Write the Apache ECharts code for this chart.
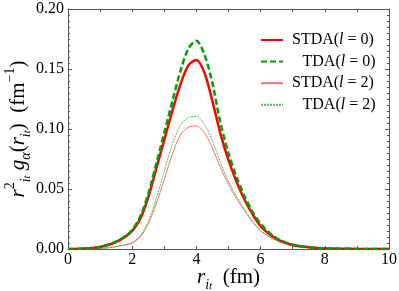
<!DOCTYPE html>
<html><head><meta charset="utf-8">
<script src="https://cdn.jsdelivr.net/npm/echarts@6/dist/echarts.min.js"></script>
<style>html,body{margin:0;padding:0;background:#fff}#c{width:399px;height:291px}</style>
</head><body><div id="c"></div>
<script>
const xs = [0, 0.25, 0.5, 0.75, 1, 1.25, 1.5, 1.75, 2, 2.25, 2.5, 2.75, 3, 3.25, 3.5, 3.75, 4, 4.25, 4.5, 4.75, 5, 5.25, 5.5, 5.75, 6, 6.25, 6.5, 6.75, 7, 7.25, 7.5, 7.75, 8, 8.5, 9, 9.5, 10];
const stdaL0 = [0, 0.0001, 0.0004, 0.0009, 0.0017, 0.0033, 0.006, 0.0095, 0.015, 0.025, 0.043, 0.067, 0.091, 0.115, 0.137, 0.153, 0.1575, 0.147, 0.123, 0.096, 0.074, 0.056, 0.041, 0.029, 0.019, 0.013, 0.0085, 0.0055, 0.0033, 0.0022, 0.0014, 0.0009, 0.0006, 0.0003, 0.0001, 0.00005, 0];
const tdaL0 = [0, 0.0001, 0.0004, 0.0009, 0.0018, 0.0035, 0.0062, 0.010, 0.016, 0.027, 0.046, 0.071, 0.097, 0.123, 0.148, 0.167, 0.1735, 0.162, 0.138, 0.105, 0.080, 0.060, 0.044, 0.031, 0.021, 0.014, 0.009, 0.0057, 0.0035, 0.0024, 0.0015, 0.001, 0.0006, 0.0003, 0.0001, 0.00005, 0];
const stdaL2 = [0, 0, 0.0001, 0.0003, 0.0005, 0.001, 0.0019, 0.0033, 0.005, 0.010, 0.021, 0.038, 0.058, 0.079, 0.095, 0.1015, 0.1025, 0.097, 0.084, 0.068, 0.054, 0.042, 0.032, 0.0225, 0.015, 0.0105, 0.007, 0.0043, 0.0027, 0.0018, 0.0012, 0.0008, 0.0005, 0.0002, 0.0001, 0, 0];
const tdaL2 = [0, 0, 0.0001, 0.0003, 0.0005, 0.001, 0.002, 0.0035, 0.0055, 0.011, 0.023, 0.042, 0.065, 0.087, 0.103, 0.1095, 0.1105, 0.104, 0.090, 0.072, 0.0565, 0.044, 0.033, 0.023, 0.0155, 0.011, 0.0072, 0.0045, 0.0028, 0.0019, 0.0012, 0.0008, 0.0005, 0.0002, 0.0001, 0, 0];
const seriesNames = ['STDA(l = 0)', 'TDA(l = 0)', 'STDA(l = 2)', 'TDA(l = 2)'];
const xTicks = ['0', '2', '4', '6', '8', '10'];
const yTicks = ['0.00', '0.05', '0.10', '0.15', '0.20'];

const FONT = '"Liberation Serif", "DejaVu Serif", serif';
const pair = a => xs.map((x, i) => [x, a[i]]);
const chart = echarts.init(document.getElementById('c'), null, {renderer: 'canvas'});
const frame = '#555';
const baseAxis = {
  axisLine: {show: true, onZero: false, lineStyle: {color: frame, width: 1}},
  splitLine: {show: false},
};
const legendRich = {
  sp: {width: 4, fontSize: 16},
  sp2: {width: 14.5, fontSize: 16},
  r: {fontFamily: FONT, fontSize: 16, color: '#000'},
  i: {fontFamily: FONT, fontSize: 16, fontStyle: 'italic', color: '#000'}
};
const nameRich = {
  v: {fontFamily: FONT, fontSize: 21, fontStyle: 'italic', color: '#000', lineHeight: 30, verticalAlign: 'middle'},
  n: {fontFamily: FONT, fontSize: 21, color: '#000', lineHeight: 30, verticalAlign: 'middle'},
  sup: {fontFamily: FONT, fontSize: 14, color: '#000', lineHeight: 16, verticalAlign: 'top'},
  sub: {fontFamily: FONT, fontSize: 14, fontStyle: 'italic', color: '#000', lineHeight: 14, verticalAlign: 'bottom'},
  subsub: {fontFamily: FONT, fontSize: 11, fontStyle: 'italic', color: '#000', lineHeight: 9, verticalAlign: 'bottom'}
};
chart.setOption({
  animation: false,
  backgroundColor: '#fff',
  grid: {left: 68, right: 10, top: 9, bottom: 42, containLabel: false, outerBoundsMode: 'none'},
  legend: {
    orient: 'vertical', left: 255, top: 27, itemWidth: 22, itemHeight: 12, itemGap: 5.6,
    data: seriesNames,
    itemStyle: {opacity: 0},
    formatter: function (name) {
      const m = name.match(/^(S?TDA\()l( = \d\))$/);
      const sp = name.startsWith('S') ? '{sp| }' : '{sp2| }';
      return sp + '{r|' + m[1] + '}{i|l}{r|' + m[2] + '}';
    },
    textStyle: {rich: legendRich, fontFamily: FONT, fontSize: 16, color: '#000', padding: [0, 0, 0, 0]}
  },
  xAxis: [
    Object.assign({}, baseAxis, {
      type: 'value', min: 0, max: 10, interval: 1, position: 'bottom',
      axisTick: {show: true, inside: true, length: 3, lineStyle: {color: frame}},
      axisLabel: {show: true, margin: 3, fontFamily: FONT, fontSize: 16, color: '#000',
        formatter: v => (Math.round(v) % 2 === 0 ? xTicks[Math.round(v) / 2] : '')},
      name: '{v|r}{sub|i}{subsub|t}{n|  (fm)}',
      nameLocation: 'middle', nameGap: 13, nameMoveOverlap: false,
      nameTextStyle: {rich: nameRich}
    }),
    Object.assign({}, baseAxis, {
      type: 'value', min: 0, max: 10, interval: 1, position: 'top',
      axisTick: {show: true, inside: true, length: 3, lineStyle: {color: frame}},
      axisLabel: {show: false}
    })
  ],
  yAxis: [
    Object.assign({}, baseAxis, {
      type: 'value', min: 0, max: 0.2, interval: 0.05, position: 'left',
      axisTick: {show: true, inside: true, length: 4, lineStyle: {color: frame}},
      minorTick: {show: true, splitNumber: 10, length: 2, lineStyle: {color: frame}},
      axisLabel: {show: true, margin: 4, fontFamily: FONT, fontSize: 16, color: '#000',
        formatter: v => yTicks[Math.round(v / 0.05)]},
      name: '{v|r}{sup|2}{sub|i}{subsub|t}{v| g}{sub|α}{n|(}{v|r}{sub|i}{subsub|t}{n|)  (fm}{sup|−1}{n|)}',
      nameLocation: 'middle', nameGap: 35, nameRotate: 90, nameMoveOverlap: false,
      nameTextStyle: {rich: nameRich}
    }),
    Object.assign({}, baseAxis, {
      type: 'value', min: 0, max: 0.2, interval: 0.05, position: 'right',
      axisTick: {show: true, inside: true, length: 4, lineStyle: {color: frame}},
      minorTick: {show: true, splitNumber: 10, length: 2, lineStyle: {color: frame}},
      axisLabel: {show: false}
    })
  ],
  series: [
    {name: seriesNames[0], type: 'line', data: pair(stdaL0), smooth: 0.3, symbol: 'none', z: 3,
      lineStyle: {color: '#ff0000', width: 2.5}, itemStyle: {color: '#ff0000'}},
    {name: seriesNames[1], type: 'line', data: pair(tdaL0), smooth: 0.3, symbol: 'none', z: 4,
      lineStyle: {color: '#00a000', width: 2.5, type: [6, 3]}, itemStyle: {color: '#00a000'}},
    {name: seriesNames[2], type: 'line', data: pair(stdaL2), smooth: 0.3, symbol: 'none', z: 2,
      lineStyle: {color: '#ff6a6a', width: 1}, itemStyle: {color: '#ff6a6a'}},
    {name: seriesNames[3], type: 'line', data: pair(tdaL2), smooth: 0.3, symbol: 'none', z: 2,
      lineStyle: {color: '#55bb55', width: 1, type: [2, 1]}, itemStyle: {color: '#55bb55'}}
  ]
});
</script></body></html>
